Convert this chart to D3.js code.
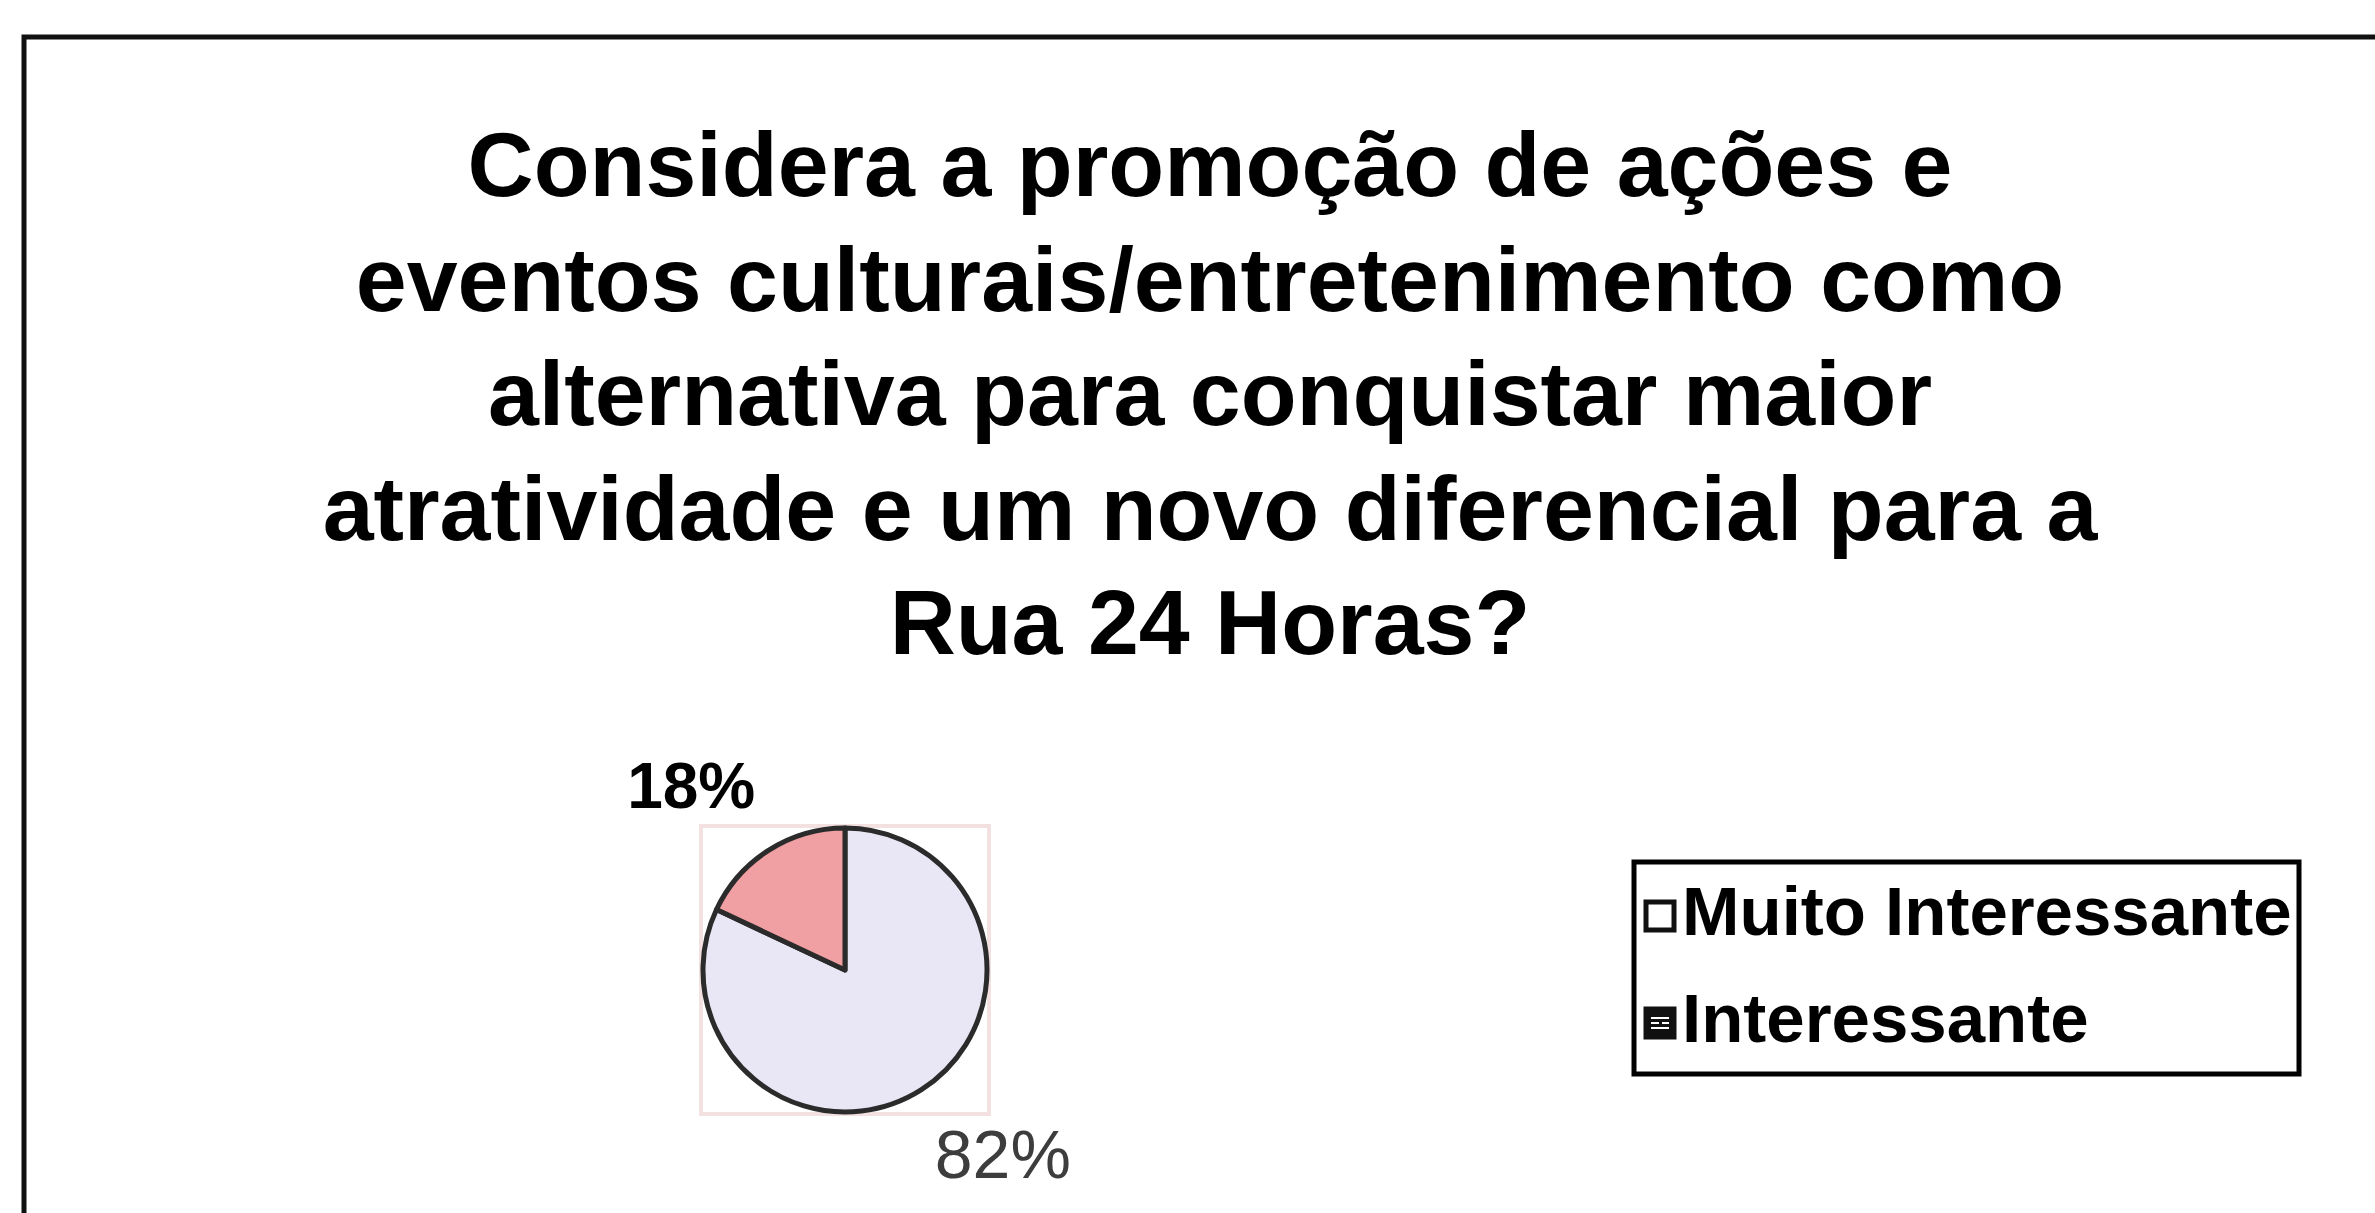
<!DOCTYPE html>
<meta charset="utf-8">
<style>
  body { margin: 0; background: #fff; }
  text { font-family: "Liberation Sans", Arial, sans-serif; }
</style>
<body>
<script src="https://d3js.org/d3.v7.min.js"></script>
<script>
// chart data
var titleLines = [
  "Considera a promoção de ações e",
  "eventos culturais/entretenimento como",
  "alternativa para conquistar maior",
  "atratividade e um novo diferencial para a",
  "Rua 24 Horas?"
];
var categories = ["Muito Interessante", "Interessante"];
var values = [82, 18];
var pctLabels = ["82%", "18%"];

var width = 2375, height = 1213;
var cx = 845, cy = 970, radius = 142;

var svg = d3.select("body").append("svg")
    .attr("width", width)
    .attr("height", height);

// outer frame (top and left edges visible, the rest runs off the page)
svg.append("path")
    .attr("d", "M24," + (height + 10) + "V37H" + (width + 10))
    .attr("fill", "none")
    .attr("stroke", "#111")
    .attr("stroke-width", 5);

// title
svg.append("g").selectAll("text")
    .data(titleLines)
  .enter().append("text")
    .attr("x", 1210)
    .attr("y", function(d, i) { return 196 + i * 114.5; })
    .attr("text-anchor", "middle")
    .style("font-size", "91.5px")
    .style("font-weight", "bold")
    .attr("fill", "#000")
    .text(function(d) { return d; });

var color = d3.scaleOrdinal()
    .domain(categories)
    .range(["#E9E7F6", "#F09FA3"]);

var pie = d3.pie()
    .sort(null)
    .value(function(d) { return d.value; });

var data = categories.map(function(c, i) {
  return {name: c, value: values[i], label: pctLabels[i]};
});

var arc = d3.arc().innerRadius(0).outerRadius(radius);
var labelArc = d3.arc().innerRadius(175).outerRadius(175);

var plot = svg.append("g")
    .attr("transform", "translate(" + cx + "," + cy + ")");

// faint plot-area box behind the pie
plot.append("rect")
    .attr("x", -radius - 2)
    .attr("y", -radius - 2)
    .attr("width", radius * 2 + 4)
    .attr("height", radius * 2 + 4)
    .attr("fill", "none")
    .attr("stroke", "#F3E0E0")
    .attr("stroke-width", 4);

plot.selectAll("path.slice")
    .data(pie(data))
  .enter().append("path")
    .attr("class", "slice")
    .attr("d", arc)
    .attr("fill", function(d) { return color(d.data.name); })
    .attr("stroke", "#2b2b2b")
    .attr("stroke-width", 5)
    .attr("stroke-linejoin", "round");

plot.selectAll("text.pct")
    .data(pie(data))
  .enter().append("text")
    .attr("class", "pct")
    .attr("x", function(d) {
      var p = labelArc.centroid(d);
      return p[0] > 0 ? p[0] - 4 : p[0] + 4;
    })
    .attr("y", function(d) {
      var p = labelArc.centroid(d);
      return p[1] > 0 ? p[1] + 60 : p[1] - 14;
    })
    .attr("text-anchor", function(d) { return labelArc.centroid(d)[0] > 0 ? "start" : "end"; })
    .style("font-size", function(d, i) { return i === 0 ? "68px" : "64px"; })
    .style("font-weight", function(d, i) { return i === 0 ? "normal" : "bold"; })
    .attr("fill", function(d, i) { return i === 0 ? "#3d3d3d" : "#000"; })
    .text(function(d) { return d.data.label; });

// legend
var legend = svg.append("g")
    .attr("transform", "translate(1634,862)");

legend.append("rect")
    .attr("width", 665)
    .attr("height", 212)
    .attr("fill", "#fff")
    .attr("stroke", "#000")
    .attr("stroke-width", 5);

var item = legend.selectAll("g.item")
    .data(categories)
  .enter().append("g")
    .attr("class", "item")
    .attr("transform", function(d, i) { return "translate(0," + (i * 107) + ")"; });

item.append("rect")
    .attr("x", 12)
    .attr("y", 40)
    .attr("width", 28)
    .attr("height", 28)
    .attr("fill", function(d, i) { return i === 0 ? "#fff" : "#111"; })
    .attr("stroke", "#111")
    .attr("stroke-width", 5);

// small pattern marks inside the filled swatch
item.filter(function(d, i) { return i === 1; })
  .append("path")
    .attr("d", "M17,49h18M17,54h8M28,54h7M17,59h18")
    .attr("stroke", "#fff")
    .attr("stroke-width", 2);

item.append("text")
    .attr("x", 48)
    .attr("y", 73)
    .style("font-size", "69px")
    .style("font-weight", "bold")
    .attr("fill", "#000")
    .text(function(d) { return d; });
</script>
</body>
